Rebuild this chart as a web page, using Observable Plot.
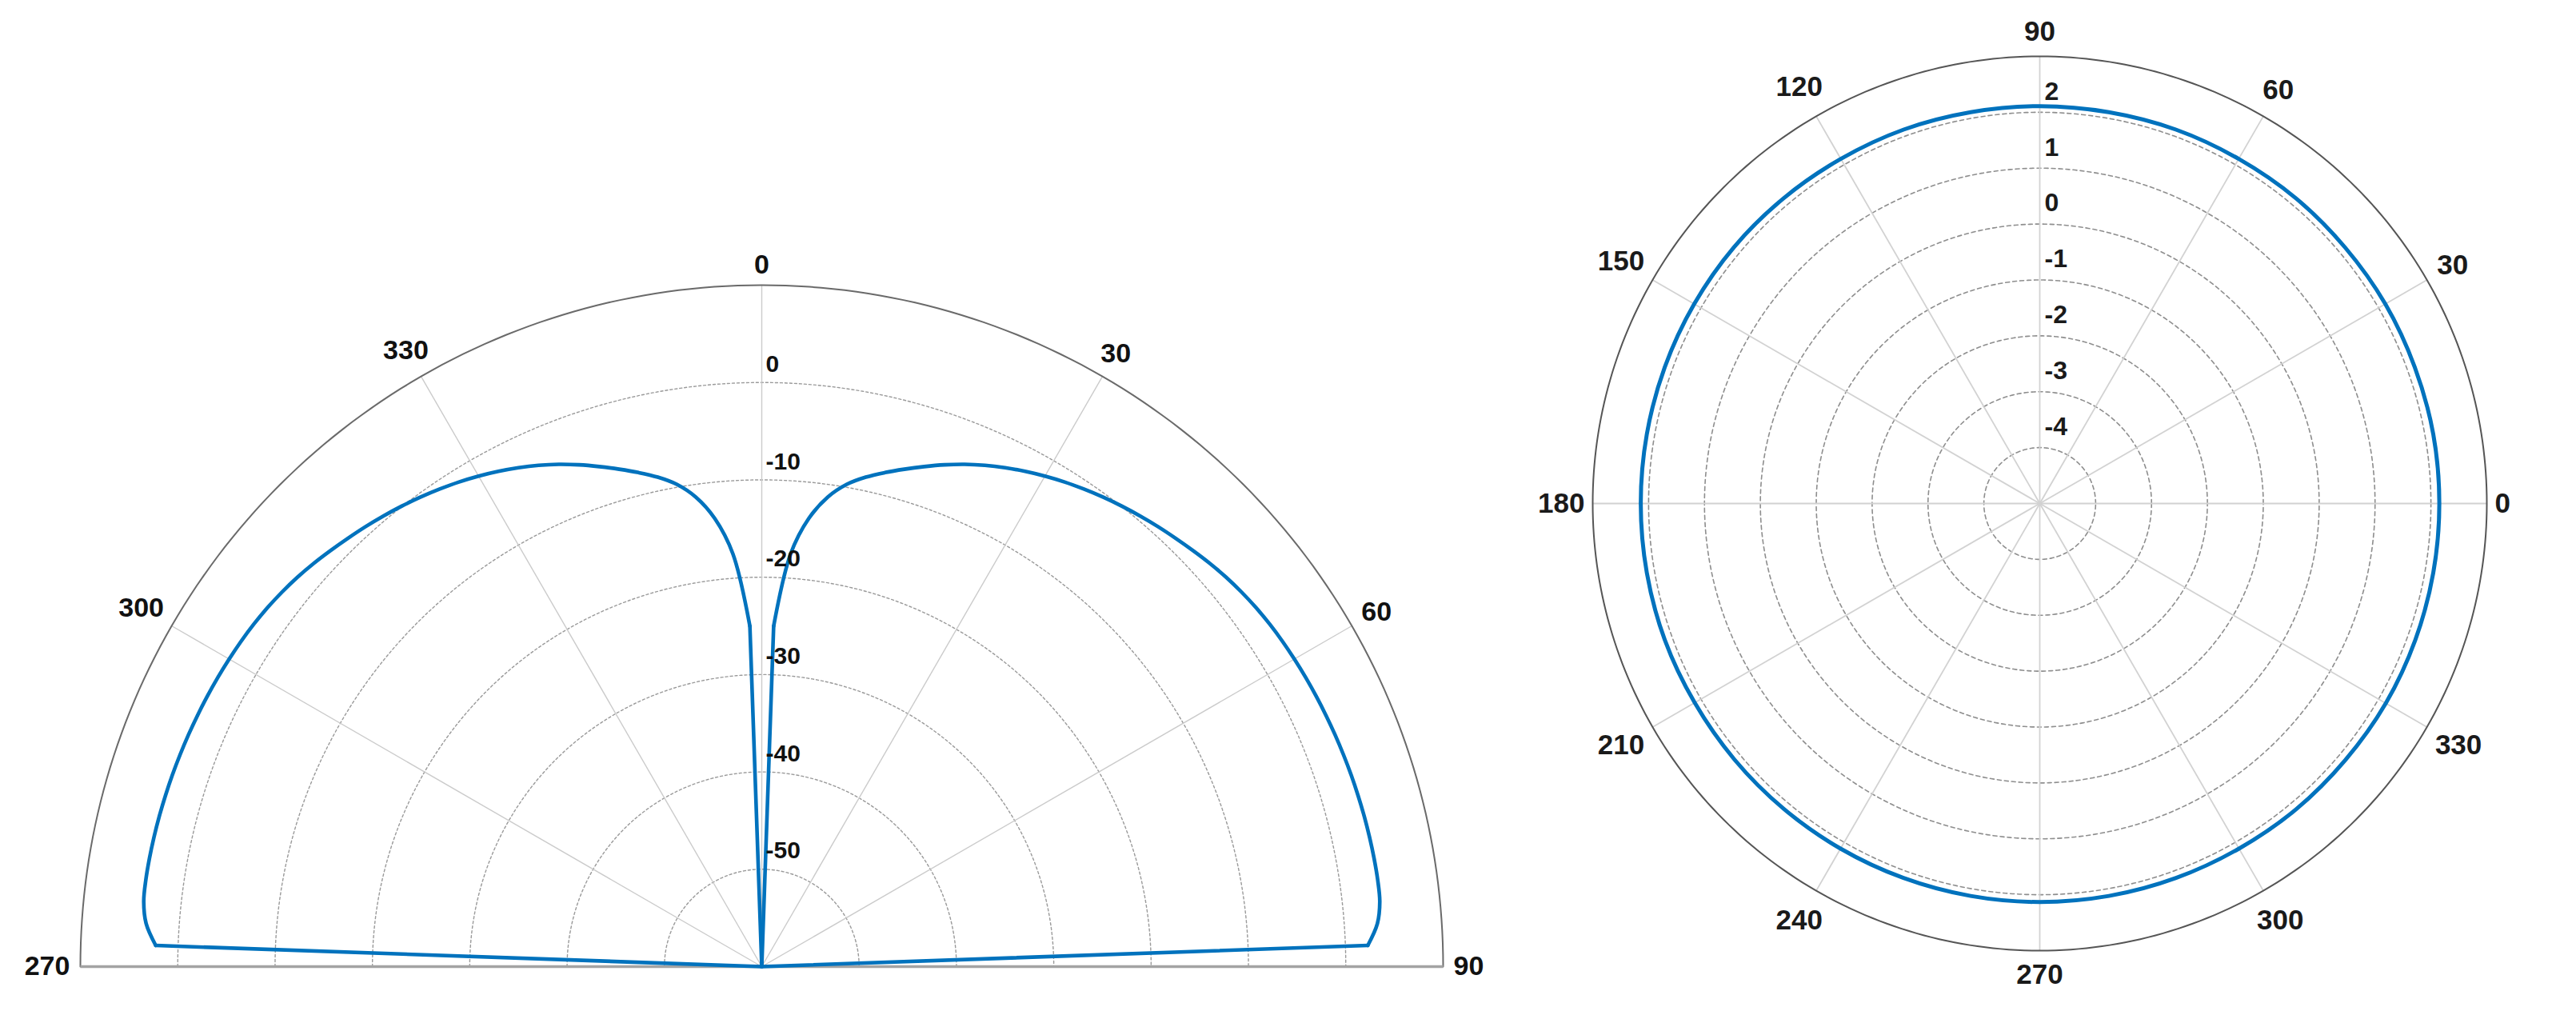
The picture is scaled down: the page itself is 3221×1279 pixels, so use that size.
<!DOCTYPE html>
<html>
<head>
<meta charset="utf-8">
<script src="https://cdn.jsdelivr.net/npm/d3@7"></script>
<script src="https://cdn.jsdelivr.net/npm/@observablehq/plot@0.6"></script>
<style>
  html, body { margin: 0; padding: 0; background: #fff; }
  #wrap { position: relative; width: 3221px; height: 1279px; overflow: hidden; background: #fff; }
  #left { position: absolute; left: 0; top: 0; }
  #right { position: absolute; left: 1940px; top: 0; }
</style>
</head>
<body>
<div id="wrap"><div id="left"></div><div id="right"></div></div>
<script>
// ===================== DATA =====================
// Left chart: half polar pattern (dB), angle clockwise from top
const leftAngleTicks = [270, 300, 330, 0, 30, 60, 90];
const leftRingTicks = [-50, -40, -30, -20, -10, 0];
const leftRadialDomain = [-60, 10];

const lobeWestAngles = [270, 272, 274, 276, 278, 280, 282, 284, 286, 288, 290, 292, 294, 296, 298,
  300, 302, 304, 306, 308, 310, 312, 314, 316, 318, 320, 322, 324, 326, 328,
  330, 332, 334, 336, 338, 340, 342, 344, 346, 348, 350, 352, 354, 356, 358];
const lobeWestGain = [-60, 2.3, 3.4, 3.84, 3.9, 3.88, 3.84, 3.79, 3.73, 3.67, 3.6, 3.53, 3.45, 3.37, 3.28,
  3.18, 3.07, 2.93, 2.75, 2.52, 2.25, 1.92, 1.55, 1.18, 0.82, 0.44, 0.04, -0.38, -0.83, -1.3,
  -1.82, -2.38, -2.98, -3.63, -4.35, -5.15, -6.0, -6.85, -7.7, -8.6, -9.7, -11.3, -13.7, -17.5, -25.0];

const lobeEastAngles = [0, 2, 4, 6, 8, 10, 12, 14, 16, 18, 20, 22, 24, 26, 28,
  30, 32, 34, 36, 38, 40, 42, 44, 46, 48, 50, 52, 54, 56, 58,
  60, 62, 64, 66, 68, 70, 72, 74, 76, 78, 80, 82, 84, 86, 88, 90];
const lobeEastGain = [-60, -25.0, -17.5, -13.7, -11.3, -9.7, -8.6, -7.7, -6.85, -6.0, -5.15, -4.35, -3.63, -2.98, -2.38,
  -1.82, -1.3, -0.83, -0.38, 0.04, 0.44, 0.82, 1.18, 1.55, 1.92, 2.25, 2.52, 2.75, 2.93, 3.07,
  3.18, 3.28, 3.37, 3.45, 3.53, 3.6, 3.67, 3.73, 3.79, 3.84, 3.88, 3.9, 3.84, 3.4, 2.3, -60];

// Right chart: full polar pattern, angle counter-clockwise from east
const rightAngleTicks = [0, 30, 60, 90, 120, 150, 180, 210, 240, 270, 300, 330];
const rightRingTicks = [-4, -3, -2, -1, 0, 1, 2];
const rightRadialDomain = [-5, 3];

const circleAngles = [0, 10, 20, 30, 40, 50, 60, 70, 80, 90, 100, 110, 120, 130, 140, 150, 160, 170,
  180, 190, 200, 210, 220, 230, 240, 250, 260, 270, 280, 290, 300, 310, 320, 330, 340, 350];
const circleGain = [2.15, 2.15, 2.14, 2.14, 2.13, 2.13, 2.12, 2.12, 2.11, 2.11, 2.11, 2.12, 2.12, 2.13, 2.14, 2.14, 2.14, 2.14,
  2.14, 2.14, 2.14, 2.13, 2.13, 2.13, 2.13, 2.13, 2.13, 2.13, 2.13, 2.13, 2.13, 2.14, 2.14, 2.15, 2.15, 2.15];

// ===================== HELPERS =====================
const rad = d => d * Math.PI / 180;
const BLUE = "#0072BD";
const sweep = (a0, a1, step) => d3.range(a0, a1 + step / 2, step);
const SANS = "'Liberation Sans', Arial, Helvetica, sans-serif";

// ===================== LEFT CHART =====================
{
  const W = 1900, H = 1279, Rpx = 852;
  const rS = Plot.scale({x: {domain: leftRadialDomain, range: [0, 1], clamp: true}});
  const px = (a, v) => rS.apply(v) * Math.sin(rad(a));
  const py = (a, v) => rS.apply(v) * Math.cos(rad(a));
  const outer = leftRadialDomain[1];
  const floorV = leftRadialDomain[0];
  const arcAngles = sweep(-90, 90, 1);

  const ringPts = leftRingTicks.flatMap(v => arcAngles.map(a => ({a, v})));
  const outerPts = arcAngles.map(a => ({a, v: outer}));
  const spokes = leftAngleTicks.filter(a => a !== 270 && a !== 90);
  const pattern = [
    ...lobeWestAngles.map((a, i) => ({a, v: lobeWestGain[i], side: "west"})),
    ...lobeEastAngles.map((a, i) => ({a, v: lobeEastGain[i], side: "east"}))
  ];
  const lobes = pattern.filter(d => d.v > floorV);
  const joins = d3.pairs(pattern).filter(([p, q]) => p.v <= floorV || q.v <= floorV);

  const fontH = 25, digitW = 19;
  const lab = a => {
    const s = Math.abs(Math.sin(rad(a))), c = Math.abs(Math.cos(rad(a)));
    const w = String(a).length * digitW;
    const off = 13 + s * w / 2 + c * fontH / 2;
    return 1 + off / Rpx;
  };

  const chart = Plot.plot({
    width: W, height: H,
    marginLeft: 100, marginRight: W - 1804, marginTop: 356, marginBottom: H - 1208,
    x: {domain: [-1, 1], axis: null},
    y: {domain: [0, 1], axis: null},
    style: {background: "transparent", overflow: "visible"},
    marks: [
      Plot.line(ringPts, {x: d => px(d.a, d.v), y: d => py(d.a, d.v), z: "v",
        stroke: "#9a9a9a", strokeWidth: 1.4, strokeDasharray: "3,3"}),
      Plot.link(spokes, {x1: 0, y1: 0, x2: a => px(a, outer), y2: a => py(a, outer),
        stroke: "#cbcbcb", strokeWidth: 1.4}),
      Plot.line(outerPts, {x: d => px(d.a, d.v), y: d => py(d.a, d.v),
        stroke: "#6a6a6a", strokeWidth: 2}),
      Plot.link([0], {x1: () => px(270, outer), y1: 0, x2: () => px(90, outer), y2: 0,
        stroke: "#a3a3a3", strokeWidth: 3.5}),
      Plot.line(lobes, {x: d => px(d.a, d.v), y: d => py(d.a, d.v), z: "side",
        curve: "catmull-rom", stroke: BLUE, strokeWidth: 4.6, strokeLinecap: "round", strokeLinejoin: "round"}),
      Plot.link(joins, {
        x1: ([p]) => px(p.a, p.v), y1: ([p]) => py(p.a, p.v),
        x2: ([, q]) => px(q.a, q.v), y2: ([, q]) => py(q.a, q.v),
        stroke: BLUE, strokeWidth: 4.6, strokeLinecap: "round"}),
      Plot.text(leftRingTicks, {x: 0, y: v => py(0, v), text: v => String(v),
        textAnchor: "start", dx: 5, dy: -23, fontSize: 30, fontWeight: "bold",
        fontFamily: SANS, fill: "#111"}),
      Plot.text(leftAngleTicks, {x: a => lab(a) * Math.sin(rad(a)), y: a => lab(a) * Math.cos(rad(a)),
        text: a => String(a), fontSize: 34, fontWeight: "bold",
        fontFamily: SANS, fill: "#111"})
    ]
  });
  document.getElementById("left").appendChild(chart);
}

// ===================== RIGHT CHART =====================
{
  const W = 1281, H = 1279, Rpx = 559, cx = 2550 - 1940, cy = 629;
  const rS = Plot.scale({x: {domain: rightRadialDomain, range: [0, 1], clamp: true}});
  const px = (a, v) => rS.apply(v) * Math.cos(rad(a));
  const py = (a, v) => rS.apply(v) * Math.sin(rad(a));
  const outer = rightRadialDomain[1];
  const full = sweep(0, 360, 1);

  const ringPts = rightRingTicks.flatMap(v => full.map(a => ({a, v})));
  const outerPts = full.map(a => ({a, v: outer}));
  const pattern = circleAngles.map((a, i) => ({a, v: circleGain[i]}));
  const fontH = 25, digitW = 19.5;
  const lab = a => {
    const s = Math.abs(Math.sin(rad(a))), c = Math.abs(Math.cos(rad(a)));
    const w = String(a).length * digitW;
    const off = 10 + 8 * s + c * w / 2 + s * fontH / 2;
    return 1 + off / Rpx;
  };

  const chart = Plot.plot({
    width: W, height: H,
    marginLeft: cx - Rpx, marginRight: W - (cx + Rpx), marginTop: cy - Rpx, marginBottom: H - (cy + Rpx),
    x: {domain: [-1, 1], axis: null},
    y: {domain: [-1, 1], axis: null},
    style: {background: "transparent", overflow: "visible"},
    marks: [
      Plot.line(ringPts, {x: d => px(d.a, d.v), y: d => py(d.a, d.v), z: "v",
        stroke: "#8e8e8e", strokeWidth: 1.6, strokeDasharray: "5,4"}),
      Plot.link(rightAngleTicks, {x1: 0, y1: 0, x2: a => px(a, outer), y2: a => py(a, outer),
        stroke: "#d2d2d2", strokeWidth: 1.8}),
      Plot.line(outerPts, {x: d => px(d.a, d.v), y: d => py(d.a, d.v),
        stroke: "#555", strokeWidth: 2}),
      Plot.line(pattern, {x: d => px(d.a, d.v), y: d => py(d.a, d.v),
        curve: "catmull-rom-closed", stroke: BLUE, strokeWidth: 5}),
      Plot.text(rightRingTicks, {x: 0, y: v => py(90, v), text: v => String(v),
        textAnchor: "start", dx: 6, dy: -26, fontSize: 32, fontWeight: "bold",
        fontFamily: SANS, fill: "#1a1a1a"}),
      Plot.text(rightAngleTicks, {x: a => lab(a) * Math.cos(rad(a)), y: a => lab(a) * Math.sin(rad(a)),
        text: a => String(a), fontSize: 35, fontWeight: "bold",
        fontFamily: SANS, fill: "#1a1a1a"})
    ]
  });
  document.getElementById("right").appendChild(chart);
}
</script>
</body>
</html>
